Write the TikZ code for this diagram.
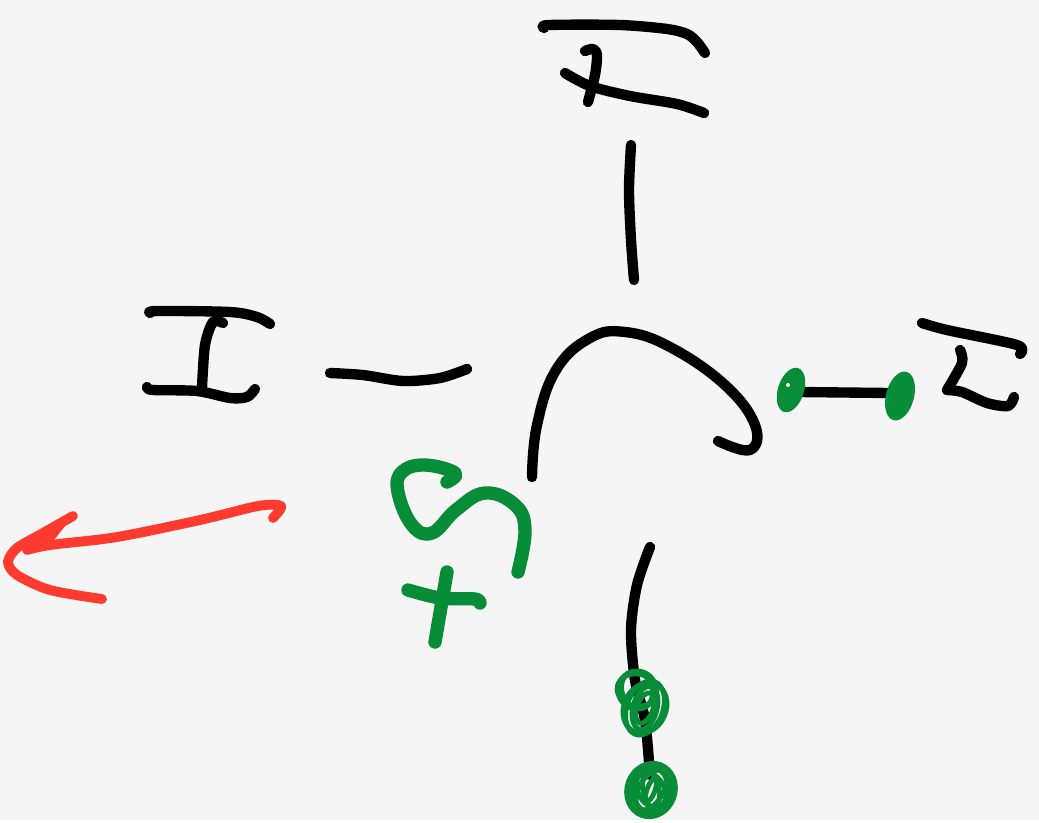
\documentclass[tikz,border=0pt]{standalone}
\definecolor{paperbg}{HTML}{F5F5F5}
\definecolor{inkgreen}{HTML}{078C38}
\definecolor{inkred}{HTML}{FF3B30}
\tikzset{
	inkline/.style={line width=5.9pt, line cap=round, line join=round, color=black},
	greenline/.style={line width=7.6pt, line cap=round, line join=round, color=inkgreen},
	redline/.style={line width=5.6pt, line cap=round, line join=round, color=inkred},
	scribble/.style={line width=2.8pt, color=inkgreen}
}
\begin{document}
\begin{tikzpicture}[x=0.02cm, y=-0.02cm]
			%%%%% START %%%%%
			
			\fill[paperbg] (0, 0) rectangle (1039, 820);
			
			% top letter
			\draw[inkline] plot[smooth, tension=0.5] coordinates {(544, 28) (549, 25) (620, 25) (667, 29) (687, 34) (697, 42) (705, 53)};
			\draw[inkline] plot[smooth, tension=0.5] coordinates {(565, 73) (590, 86) (630, 96) (677, 104) (704, 113)};
			\draw[inkline] plot[smooth, tension=0.5] coordinates {(585, 51) (593, 49) (597, 55) (595, 75) (588, 102)};
			\draw[inkline] plot[smooth, tension=0.5] coordinates {(631, 145) (629, 190) (631, 240) (634, 280)};
			
			% left letter
			\draw[inkline] plot[smooth, tension=0.5] coordinates {(150, 313) (157, 311) (230, 312) (257, 317) (270, 324)};
			\draw[inkline] plot[smooth, tension=0.5] coordinates {(147, 387) (153, 390) (197, 391) (230, 398) (247, 397) (255, 389)};
			\draw[inkline] plot[smooth, tension=0.5] coordinates {(223, 323) (213, 322) (205, 345) (202, 388)};
			\draw[inkline] plot[smooth, tension=0.5] coordinates {(330, 373) (363, 375) (403, 381) (440, 378) (467, 369)};
			
			% right letter
			\draw[inkline] plot[smooth, tension=0.5] coordinates {(922, 323) (947, 330) (1017, 345) (1020, 354)};
			\draw[inkline] plot[smooth, tension=0.5] coordinates {(960, 350) (962, 363) (947, 390)};
			\draw[inkline] plot[smooth, tension=0.5] coordinates {(947, 390) (962, 392) (987, 403) (1008, 406) (1014, 397)};
			\draw[inkline] (800, 392) -- (890, 393);
			
			% centre arc and lower stem
			\draw[inkline] plot[smooth, tension=0.7] coordinates {(532, 477) (537, 425) (556, 370) (590, 338) (625, 332) (670, 347) (725, 385) (755, 425) (750, 450) (718, 441)};
			\draw[inkline] plot[smooth, tension=0.5] coordinates {(650, 547) (637, 585) (631, 630) (635, 680) (645, 720) (650, 775)};
			
			% green blobs
			\fill[inkgreen, rotate around={-18:(791, 390)}] (791, 390) ellipse [x radius=13, y radius=23];
			\fill[paperbg] (788, 385) circle (2);
			\fill[inkgreen, rotate around={-15:(900, 396)}] (900, 396) ellipse [x radius=14, y radius=25];
			\foreach \a/\rx/\ry in {-25/19/19, -10/20/16, 20/15/19} {
				\draw[scribble, rotate around={\a:(637, 690)}] (637, 690) ellipse [x radius=\rx, y radius=\ry];
			}
			\foreach \a/\rx/\ry in {-20/18/28, -15/12/22, -25/21/26, -20/8/16} {
				\draw[scribble, rotate around={\a:(645, 708)}] (645, 708) ellipse [x radius=\rx, y radius=\ry];
			}
			\foreach \a/\rx/\ry in {-20/24/27, -10/17/22, -30/12/22, 10/8/18, -20/4/12, 15/20/24, -35/21/26, 30/13/19} {
				\draw[scribble, rotate around={\a:(651, 790)}] (651, 790) ellipse [x radius=\rx, y radius=\ry];
			}
			
			% green S and plus
			\draw[greenline] plot[smooth, tension=0.7] coordinates {(447, 482) (455, 473) (425, 465) (402, 472) (398, 492) (412, 525) (432, 533) (456, 510) (485, 493) (515, 505) (525, 530) (518, 572)};
			\draw[greenline] plot[smooth, tension=0.5] coordinates {(408, 590) (440, 598) (475, 599) (480, 603)};
			\draw[greenline] (447, 572) -- (435, 642);
			
			% red arrow
			\draw[redline] plot[smooth, tension=0.5] coordinates {(273, 518) (281, 506) (258, 506) (200, 520) (117, 537) (50, 545) (27, 550)};
			\draw[redline] plot[smooth, tension=0.5] coordinates {(73, 516) (43, 533) (17, 548) (8, 562) (17, 575) (50, 590) (102, 599)};
			\fill[inkred] (73, 516) -- (25, 545) -- (50, 545) -- cycle;
			
			%%%%% END %%%%%
		\end{tikzpicture}
\end{document}
